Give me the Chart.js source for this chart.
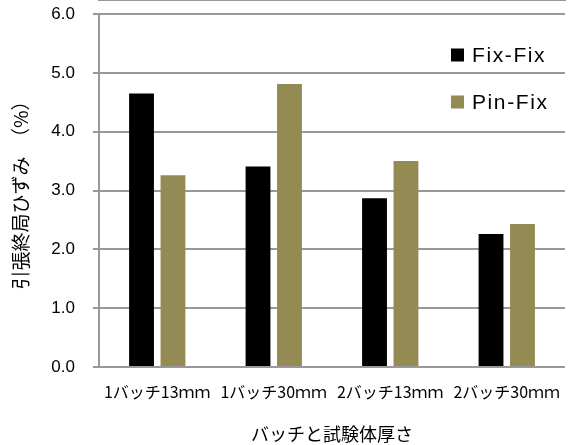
<!DOCTYPE html>
<html>
<head>
<meta charset="utf-8">
<script src="https://cdn.jsdelivr.net/npm/chart.js@4/dist/chart.umd.min.js"></script>
<style>
  html, body { margin: 0; padding: 0; background: #fff; }
  #wrap { width: 568px; height: 445px; }
</style>
</head>
<body>
<div id="wrap"><canvas id="c" width="568" height="445"></canvas></div>
<script>
// Ultimate tensile strain by batch and specimen thickness
const categories = ['1バッチ13ｍｍ', '1バッチ30ｍｍ', '2バッチ13ｍｍ', '2バッチ30ｍｍ'];
const fixFix = [4.65, 3.41, 2.87, 2.26];
const pinFix = [3.26, 4.81, 3.50, 2.43];
const seriesNames = ['Fix-Fix', 'Pin-Fix'];
const seriesColors = ['#000000', '#948A54'];
const yMin = 0;
const yMax = 6;
const yStep = 1;
const yTitle = '引張終局ひずみ　（%）';
const xTitle = 'バッチと試験体厚さ';

const latin = '"Liberation Sans", Arial, sans-serif';
const cjk = '"Noto Sans CJK JP", "Liberation Sans", sans-serif';
const axisGrey = '#999999';

// Legend drawn inside the plot area, upper right
const insideLegend = {
  id: 'insideLegend',
  afterDraw(chart) {
    const ctx = chart.ctx;
    const items = chart.data.datasets;
    const x0 = 451, y0 = 55, step = 47, box = 13;
    ctx.save();
    ctx.font = '21px ' + latin;
    ctx.textBaseline = 'middle';
    ctx.textAlign = 'left';
    if ('letterSpacing' in ctx) ctx.letterSpacing = '1.6px';
    items.forEach((ds, i) => {
      const y = y0 + i * step;
      ctx.fillStyle = ds.backgroundColor;
      ctx.fillRect(x0, y - box / 2, box, box);
      ctx.fillStyle = '#000';
      ctx.fillText(ds.label, x0 + 21, y + 1);
    });
    if ('letterSpacing' in ctx) ctx.letterSpacing = '0px';
    ctx.restore();
  }
};

// Keep the plot box fixed regardless of label overhang
function noOverhang(scale) {
  scale.paddingTop = 0;
  scale.paddingBottom = 0;
  scale.paddingLeft = 0;
  scale.paddingRight = 0;
}

new Chart(document.getElementById('c'), {
  type: 'bar',
  data: {
    labels: categories,
    datasets: [
      { label: seriesNames[0], data: fixFix, backgroundColor: seriesColors[0] },
      { label: seriesNames[1], data: pinFix, backgroundColor: seriesColors[1] }
    ]
  },
  options: {
    responsive: false,
    animation: false,
    devicePixelRatio: 1,
    layout: { padding: { left: 0, right: 3, top: 14, bottom: 0 } },
    categoryPercentage: 0.54,
    barPercentage: 0.79,
    plugins: {
      legend: { display: false },
      tooltip: { enabled: false }
    },
    scales: {
      x: {
        grid: { display: false, drawOnChartArea: false, drawTicks: false },
        border: { display: true, color: axisGrey, width: 2 },
        ticks: {
          color: '#000',
          font: { family: cjk, size: 16 },
          padding: 15,
          maxRotation: 0,
          autoSkip: false
        },
        title: {
          display: true,
          text: xTitle,
          color: '#000',
          font: { family: cjk, size: 18 },
          padding: { top: 0, bottom: 0 }
        },
        afterFit(scale) {
          scale.height = 78;
          noOverhang(scale);
          // category axis: no vertical lines, only the baseline
          scale.drawGrid = function () {};
        }
      },
      y: {
        min: yMin,
        max: yMax,
        grid: { color: axisGrey, lineWidth: 2, tickLength: 6, drawTicks: true },
        border: { display: true, color: axisGrey, width: 2 },
        ticks: {
          stepSize: yStep,
          color: '#000',
          font: { family: latin, size: 17 },
          padding: 18,
          callback: v => Number(v).toFixed(1)
        },
        title: {
          display: true,
          text: yTitle,
          color: '#000',
          font: { family: cjk, size: 19 },
          padding: { top: 9, bottom: 0 }
        },
        afterFit(scale) { scale.width = 99; noOverhang(scale); }
      }
    }
  },
  plugins: [insideLegend]
});
</script>
</body>
</html>
